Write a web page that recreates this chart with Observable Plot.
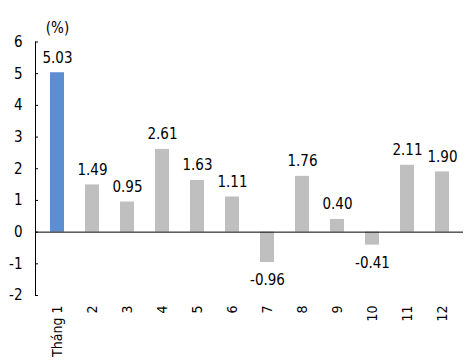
<!DOCTYPE html>
<html><head><meta charset="utf-8">
<script src="https://cdn.jsdelivr.net/npm/d3@7"></script>
<script src="https://cdn.jsdelivr.net/npm/@observablehq/plot@0.6"></script>
<style>
body{margin:0;background:#fff;}
#chart{position:relative;width:473px;height:361px;}
</style>
</head><body><div id="chart"></div>
<script>
const months = ["Tháng 1","2","3","4","5","6","7","8","9","10","11","12"];
const values = [5.03,1.49,0.95,2.61,1.63,1.11,-0.96,1.76,0.40,-0.41,2.11,1.90];
const highlight = ["Tháng 1"];
const yTicks = [-2,-1,0,1,2,3,4,5,6];
const unitLabel = "(%)";

const data = months.map((m,i)=>({month:m, value:values[i], hl: highlight.includes(m)}));
const font = "'DejaVu Sans Condensed', 'DejaVu Sans', sans-serif";

const plot = Plot.plot({
  width:473, height:361,
  marginLeft:35, marginRight:10, marginTop:41.5, marginBottom:66,
  style:{fontFamily:font, fontSize:"14px", color:"#000", background:"#fff"},
  x:{domain:months, paddingInner:0.6, paddingOuter:0.3, label:null},
  y:{domain:[-2,6], label:null},
  marks:[
    Plot.barY(data,{x:"month", y:"value", fill:d=>d.hl?"#5B8FD0":"#BFBFBF"}),
    Plot.ruleY([0],{stroke:"#000", strokeWidth:1}),
    Plot.frame({anchor:"left", stroke:"#000"}),
    Plot.axisY({ticks:yTicks, tickSize:-3, tickPadding:16, tickFormat:d=>d, fontSize:15, stroke:"#000", strokeOpacity:1}),
    Plot.axisX({tickSize:0, tickPadding:10, tickRotate:-90, fontSize:14}),
    Plot.text(data.filter(d=>d.value>=0),{x:"month", y:"value", text:d=>d.value.toFixed(2), dy:-10, lineAnchor:"bottom", fontSize:15}),
    Plot.text(data.filter(d=>d.value<0),{x:"month", y:"value", text:d=>d.value.toFixed(2), dy:12, lineAnchor:"top", fontSize:15}),
    Plot.text([unitLabel],{frameAnchor:"top-left", text:d=>d, dy:-9, dx:22, lineAnchor:"bottom", textAnchor:"middle", fontSize:15})
  ]
});
document.getElementById("chart").appendChild(plot);
</script>
</body></html>
